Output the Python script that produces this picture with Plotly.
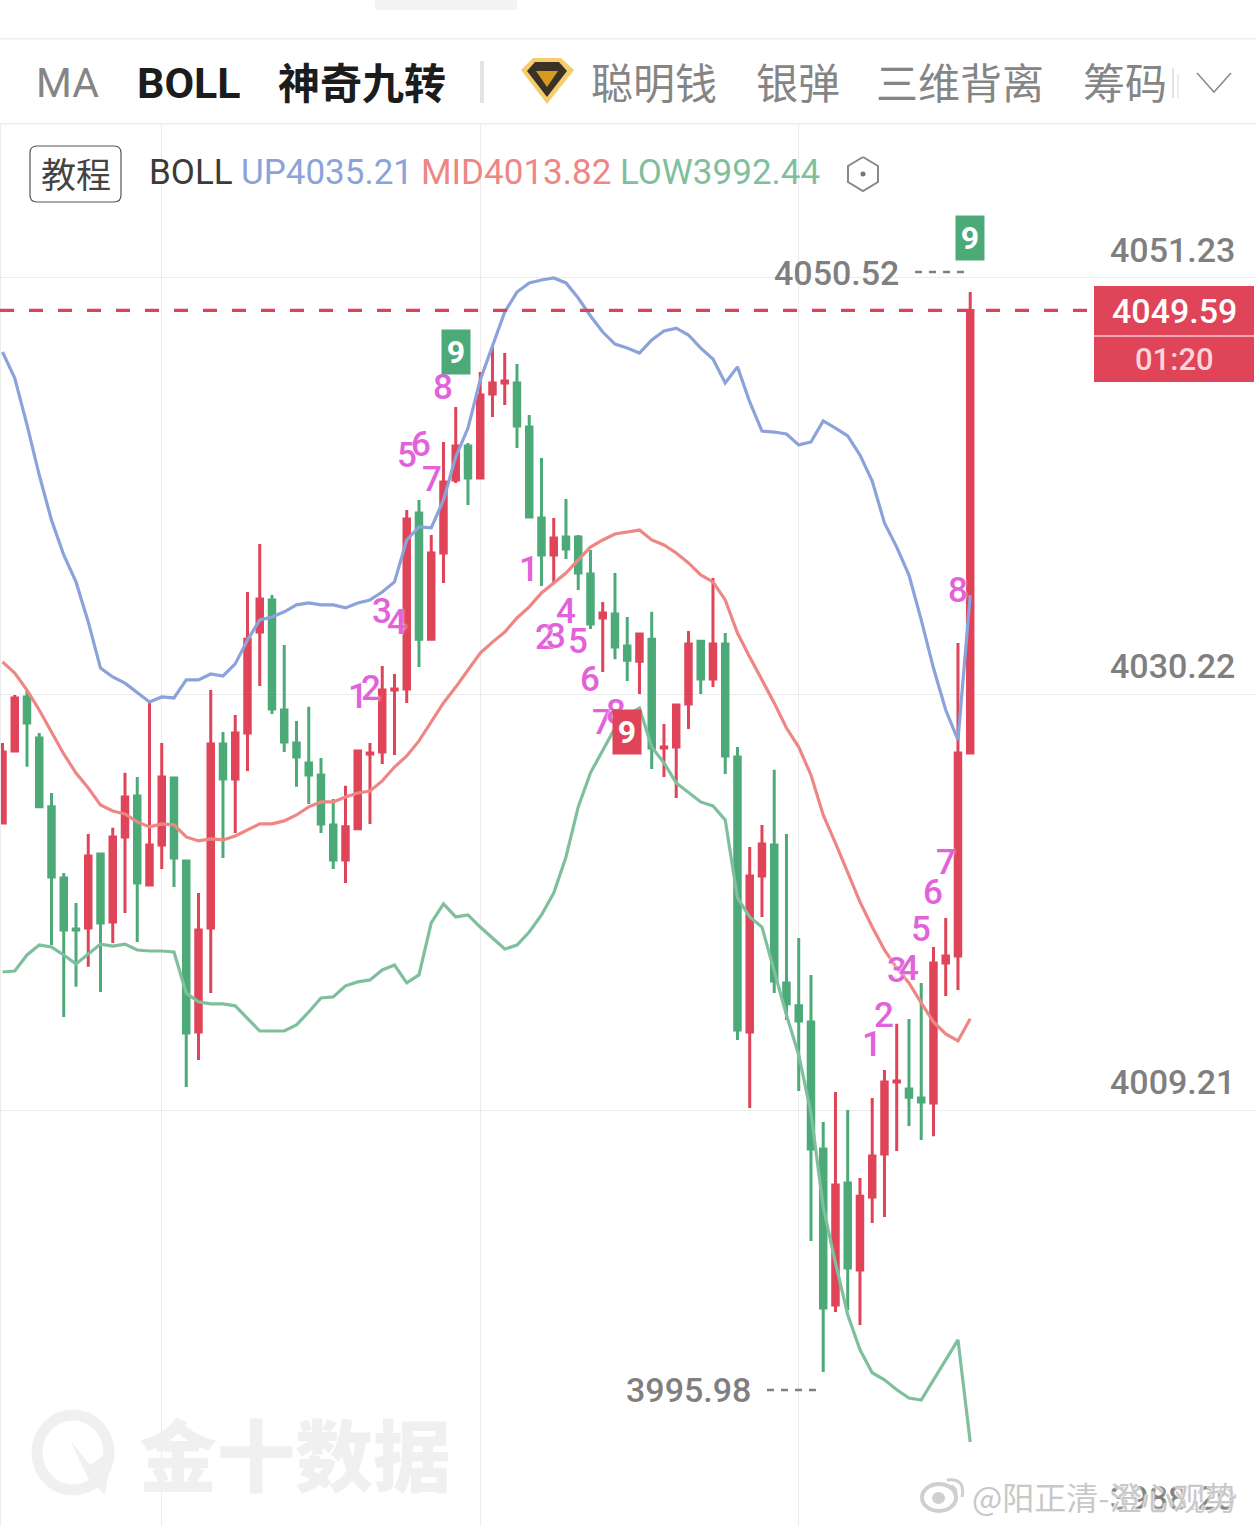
"""
plot.py

Gold candles with BOLL bands and the nine-turn counts.
"""

import plotly.graph_objects as go

W = 1256
H = 1526

# candles, oldest first (index is the bar number)
opens = [4023.71, 4027.34, 4030.07, 4028.00, 4024.52, 4020.93, 4018.35, 4018.40, 4022.14, 4018.71,
         4023.00, 4025.07, 4020.57, 4022.59, 4025.98, 4021.79, 4013.15, 4018.40, 4027.70, 4025.93,
         4028.25, 4033.35, 4034.97, 4029.41, 4027.75, 4026.74, 4026.13, 4023.61, 4021.84, 4023.41,
         4027.19, 4027.29, 4030.42, 4030.47, 4039.36, 4032.99, 4037.34, 4041.03, 4042.75, 4041.13,
         4045.37, 4045.93, 4045.93, 4043.70, 4039.11, 4037.24, 4038.15, 4038.15, 4036.28, 4034.06,
         4034.26, 4032.64, 4031.88, 4032.99, 4027.49, 4027.54, 4029.71, 4032.89, 4030.98, 4032.74,
         4027.04, 4013.15, 4021.03, 4022.59, 4015.63, 4014.47, 4013.66, 4007.24, 3999.36, 4005.52,
         4001.13, 4004.81, 4006.99, 4010.62, 4010.27, 4009.81, 4009.56, 4016.63, 4016.99, 4027.24]
highs = [4027.75, 4030.17, 4030.42, 4028.25, 4025.22, 4021.18, 4019.67, 4023.15, 4022.19, 4023.46,
         4026.24, 4026.03, 4029.92, 4027.75, 4026.03, 4021.79, 4020.17, 4030.42, 4028.30, 4029.16,
         4035.37, 4037.80, 4035.22, 4032.69, 4028.86, 4029.57, 4026.99, 4024.92, 4025.58, 4027.39,
         4027.75, 4031.63, 4031.23, 4039.51, 4040.02, 4038.25, 4042.95, 4044.72, 4042.90, 4046.48,
         4047.75, 4047.44, 4046.89, 4044.31, 4042.14, 4039.11, 4040.07, 4038.25, 4037.49, 4034.87,
         4036.33, 4034.11, 4033.30, 4034.37, 4028.71, 4029.66, 4033.40, 4032.94, 4036.08, 4033.30,
         4027.54, 4022.49, 4023.61, 4026.39, 4023.15, 4017.90, 4016.03, 4008.60, 4010.12, 4009.21,
         4005.77, 4009.81, 4011.23, 4013.56, 4013.81, 4015.63, 4017.44, 4018.91, 4032.79, 4050.52]
lows = [4023.71, 4027.34, 4026.54, 4024.52, 4017.54, 4013.91, 4015.43, 4016.44, 4015.17, 4017.64,
        4019.16, 4017.69, 4020.57, 4021.38, 4020.47, 4010.37, 4011.74, 4015.12, 4021.94, 4023.20,
        4026.33, 4030.62, 4029.21, 4027.29, 4025.53, 4024.67, 4023.20, 4021.38, 4020.67, 4023.41,
        4023.66, 4026.69, 4027.14, 4029.77, 4031.58, 4032.99, 4035.83, 4040.88, 4039.77, 4041.13,
        4044.21, 4044.82, 4042.65, 4039.16, 4035.67, 4035.83, 4037.04, 4035.47, 4033.50, 4031.33,
        4031.98, 4030.88, 4030.22, 4026.43, 4026.03, 4024.97, 4028.45, 4030.22, 4030.57, 4026.18,
        4012.75, 4009.31, 4018.96, 4015.12, 4013.76, 4010.17, 4002.59, 3995.98, 3999.01, 3999.11,
        3998.35, 4003.50, 4003.81, 4007.14, 4008.40, 4007.69, 4007.89, 4014.97, 4015.27, 4027.24]
closes = [4027.29, 4030.02, 4028.76, 4024.52, 4020.98, 4018.30, 4018.30, 4022.04, 4018.66, 4023.00,
          4025.02, 4020.67, 4022.59, 4026.03, 4021.94, 4013.10, 4018.30, 4027.70, 4025.93, 4028.25,
          4032.99, 4035.02, 4029.46, 4027.80, 4027.04, 4026.13, 4023.66, 4021.84, 4023.51, 4027.34,
          4027.24, 4030.42, 4030.47, 4039.06, 4032.99, 4037.34, 4040.93, 4042.75, 4041.13, 4045.32,
          4045.93, 4046.03, 4043.76, 4039.16, 4037.24, 4038.10, 4037.54, 4036.33, 4033.76, 4034.31,
          4032.59, 4031.93, 4033.25, 4027.49, 4027.54, 4029.66, 4032.74, 4030.98, 4032.74, 4027.09,
          4013.25, 4021.03, 4022.64, 4015.73, 4014.57, 4013.71, 4007.24, 3999.21, 4005.42, 4001.23,
          4004.86, 4006.89, 4010.62, 4010.67, 4009.86, 4009.61, 4016.63, 4016.99, 4027.24, 4049.59]

boll_up = [4047.49, 4046.18, 4043.81, 4041.28, 4039.00, 4037.24, 4035.88, 4033.86, 4031.53, 4031.08,
           4030.77, 4030.27, 4029.82, 4030.07, 4030.02, 4030.93, 4030.93, 4031.23, 4031.13, 4031.74,
           4032.94, 4033.96, 4034.11, 4034.37, 4034.72, 4034.82, 4034.72, 4034.72, 4034.57, 4034.82,
           4034.97, 4035.37, 4035.88, 4038.00, 4038.66, 4038.61, 4040.02, 4042.19, 4043.65, 4046.08,
           4047.75, 4049.51, 4050.52, 4050.98, 4051.13, 4051.23, 4050.98, 4050.22, 4049.31, 4048.50,
           4047.89, 4047.69, 4047.44, 4048.10, 4048.55, 4048.70, 4048.35, 4047.69, 4047.14, 4045.93,
           4046.74, 4044.97, 4043.50, 4043.45, 4043.35, 4042.80, 4042.95, 4044.01, 4043.65, 4043.25,
           4042.29, 4040.98, 4038.86, 4037.64, 4036.23, 4033.96, 4031.53, 4029.41, 4027.90, 4035.21]
boll_mid = [4031.84, 4031.28, 4030.42, 4029.41, 4028.30, 4027.19, 4026.23, 4025.47, 4024.62, 4024.31,
            4024.16, 4023.76, 4023.51, 4023.66, 4023.61, 4023.00, 4022.80, 4022.90, 4022.85, 4023.05,
            4023.36, 4023.66, 4023.66, 4023.81, 4024.11, 4024.52, 4024.77, 4024.77, 4025.02, 4025.22,
            4025.32, 4025.83, 4026.53, 4027.09, 4027.85, 4028.81, 4029.77, 4030.57, 4031.43, 4032.29,
            4032.84, 4033.35, 4034.06, 4034.62, 4035.32, 4035.83, 4036.33, 4036.99, 4037.64, 4038.00,
            4038.30, 4038.40, 4038.50, 4038.00, 4037.75, 4037.34, 4036.84, 4036.23, 4035.88, 4034.97,
            4033.30, 4032.09, 4030.93, 4029.77, 4028.50, 4027.54, 4026.13, 4024.11, 4022.69, 4021.18,
            4019.72, 4018.45, 4017.29, 4016.38, 4015.63, 4014.62, 4013.66, 4013.05, 4012.70, 4013.82]
boll_low = [4016.18, 4016.23, 4017.04, 4017.54, 4017.44, 4017.04, 4016.58, 4017.09, 4017.59, 4017.49,
            4017.59, 4017.29, 4017.24, 4017.24, 4017.19, 4015.12, 4014.67, 4014.57, 4014.57, 4014.47,
            4013.86, 4013.20, 4013.20, 4013.20, 4013.51, 4014.16, 4014.87, 4014.92, 4015.48, 4015.68,
            4015.78, 4016.28, 4016.53, 4015.63, 4016.03, 4018.66, 4019.62, 4018.96, 4019.06, 4018.45,
            4017.90, 4017.34, 4017.54, 4018.20, 4019.06, 4020.17, 4021.99, 4024.52, 4026.24, 4027.39,
            4028.50, 4029.16, 4029.51, 4027.54, 4026.74, 4025.73, 4025.27, 4024.77, 4024.57, 4023.86,
            4019.92, 4018.96, 4018.45, 4016.18, 4014.01, 4011.99, 4009.06, 4004.31, 4001.49, 3998.87,
            3997.10, 3995.94, 3995.58, 3995.08, 3994.66, 3994.56, 3995.58, 3996.59, 3997.60, 3992.44]

price_levels = [4051.23, 4030.22, 4009.21, 3988.20]
price_labels = ['4051.23', '4030.22', '4009.21', '3988.20']
grid_bars = [13, 39, 65]
last_price = 4049.59
countdown = '01:20'

# nine-turn counts: label, bar, price where it sits
count_text = ['1', '2', '3', '4', '5', '6', '7', '8',
              '1', '2', '3', '4', '5', '6', '7', '8',
              '1', '2', '3', '4', '5', '6', '7', '8']
count_bar = [29.0, 30.1, 31.0, 32.2, 33.0, 34.2, 35.1, 36.0,
             43.0, 44.3, 45.2, 46.0, 47.0, 48.0, 48.9, 50.1,
             71.0, 72.0, 73.0, 74.0, 75.0, 76.0, 77.0, 78.0]
count_price = [4030.07, 4030.52, 4034.37, 4033.81, 4042.29, 4042.80, 4041.03, 4045.72,
               4036.53, 4033.05, 4033.10, 4034.37, 4032.89, 4030.93, 4028.76, 4029.31,
               4012.54, 4013.96, 4016.28, 4016.38, 4018.35, 4020.22, 4021.73, 4035.47]
nine_bar = [37, 51, 79]
nine_price = [4047.49, 4028.29, 4053.25]

RED = '#df4459'
GREEN = '#4caa78'
BLUE = '#8ba2da'
PINK = '#ee8784'
MINT = '#80bf9e'
GREY = '#7f7f7f'
GRID = '#ececec'
MAGENTA = '#e262da'
CJK = 'Noto Sans CJK SC'

# y range and x range fitted so the bars fill the whole page
y_range = [3988.20, 4065.27]
x_range = [-0.204, 102.33]


def px(x):
    return x / W


def py(y):
    return 1 - y / H


def label(x, y, text, size, color, anchor='left', weight=400, family='Roboto', shadow=None):
    fig.add_annotation(xref='paper', yref='paper', x=px(x), y=py(y), text=text,
                       xanchor=anchor, yanchor='middle', showarrow=False,
                       font=dict(family=family, size=size, color=color, weight=weight,
                                 shadow=shadow))


def box(x0, y0, x1, y1, fill=None, line=None, width=1, kind='rect'):
    fig.add_shape(type=kind, xref='paper', yref='paper',
                  x0=px(x0), x1=px(x1), y0=py(y0), y1=py(y1),
                  fillcolor=fill, line=dict(color=line, width=width if line else 0))


def poly(path, fill=None, line=None, width=1):
    # path given in page pixels
    pts = [f'{px(a):.5f},{py(b):.5f}' for a, b in path]
    fig.add_shape(type='path', xref='paper', yref='paper',
                  path='M' + ' L'.join(pts) + (' Z' if fill else ''),
                  fillcolor=fill, line=dict(color=line, width=width if line else 0))


def curve(a, ctrl, b, color, width):
    fig.add_shape(type='path', xref='paper', yref='paper',
                  path=f'M{px(a[0]):.5f},{py(a[1]):.5f} Q{px(ctrl[0]):.5f},{py(ctrl[1]):.5f} '
                       f'{px(b[0]):.5f},{py(b[1]):.5f}',
                  line=dict(color=color, width=width))


fig = go.Figure()

bars = list(range(len(closes)))

fig.add_trace(go.Candlestick(
    x=bars, open=opens, high=highs, low=lows, close=closes,
    increasing=dict(line=dict(color=RED, width=3), fillcolor=RED),
    decreasing=dict(line=dict(color=GREEN, width=3), fillcolor=GREEN),
    whiskerwidth=0,
    showlegend=False,
))

for values, color in [(boll_up, BLUE), (boll_mid, PINK), (boll_low, MINT)]:
    fig.add_trace(go.Scatter(x=bars, y=values, mode='lines',
                             line=dict(color=color, width=3.2),
                             showlegend=False))

fig.update_layout(
    width=W, height=H,
    autosize=False,
    margin=dict(l=0, r=0, t=0, b=0),
    paper_bgcolor='white',
    plot_bgcolor='white',
    boxgap=0.36,
    xaxis=dict(range=x_range, domain=[0, 1], tickmode='array', tickvals=grid_bars,
               showticklabels=False, showgrid=True, gridcolor=GRID, gridwidth=1,
               zeroline=False, rangeslider=dict(visible=False), ticks=''),
    yaxis=dict(range=y_range, domain=[0, 1], tickmode='array', tickvals=price_levels,
               showticklabels=False, showgrid=True, gridcolor=GRID, gridwidth=1,
               zeroline=False, ticks=''),
)

# white header over the grid verticals
box(0, 0, W, 124, fill='white')
box(375, 0, 517, 10, fill='#f4f4f4')
box(0, 38, W, 39.5, fill='#eeeeee')
box(0, 123, W, 124.5, fill='#ececec')
box(0, 124, 1, H, fill=GRID)

label(34, 83, 'MA', 41, '#858585')
label(135, 83, 'BOLL', 43, '#1c1c1c', weight=700)
label(276, 81, '神奇九转', 42, '#1c1c1c', weight=700, family=CJK)
box(480, 61, 484, 103, fill='#e4e4e4')
poly([(521, 70), (533, 58), (561, 58), (574, 70), (547, 104)], fill='#f7cc6c')
poly([(527, 71), (535, 62), (559, 62), (567, 71), (547, 97)], fill='#3a3226')
poly([(536, 71), (558, 71), (547, 87)], fill='#d99a1e')
label(589, 81, '聪明钱', 42, '#858585', family=CJK)
label(754, 81, '银弹', 42, '#858585', family=CJK)
label(874, 81, '三维背离', 42, '#858585', family=CJK)
label(1081, 81, '筹码', 42, '#858585', family=CJK)
box(1172, 68, 1174, 98, fill='#e2e2e2')
box(1177, 74, 1179, 98, fill='#eeeeee')
poly([(1197, 73), (1214, 92), (1231, 73)], line='#8a8a8a', width=1.5)

# indicator line under the tabs
fig.add_shape(type='path', xref='paper', yref='paper',
              path=f'M{px(37)},{py(146)} L{px(114)},{py(146)} Q{px(121)},{py(146)} {px(121)},{py(153)} '
                   f'L{px(121)},{py(195)} Q{px(121)},{py(202)} {px(114)},{py(202)} '
                   f'L{px(37)},{py(202)} Q{px(30)},{py(202)} {px(30)},{py(195)} '
                   f'L{px(30)},{py(153)} Q{px(30)},{py(146)} {px(37)},{py(146)} Z',
              fillcolor='white', line=dict(color='#555555', width=1.2))
label(75.5, 172, '教程', 35, '#444444', anchor='center', family=CJK)
label(147, 173, 'BOLL', 35, '#3a3a3a')
label(239, 173, 'UP4035.21', 35, BLUE)
label(419, 173, 'MID4013.82', 35, PINK)
label(618, 173, 'LOW3992.44', 35, MINT)
poly([(863, 157), (878, 166), (878, 182), (863, 191), (848, 182), (848, 166), (863, 157)],
     line='#888888', width=2)
box(860.5, 171.5, 865.5, 176.5, fill='#777777', kind='circle')

# right price scale
for level, text in zip(price_levels, price_labels):
    fig.add_annotation(xref='paper', yref='y', x=px(1237), y=level, text=text, xanchor='right',
                       yanchor='bottom', yshift=6, showarrow=False,
                       font=dict(family='Roboto', size=34, color=GREY, weight=500))

# last price line and tag
fig.add_shape(type='line', xref='paper', yref='y', x0=0, x1=px(1094), y0=last_price, y1=last_price,
              line=dict(color='#d9465c', width=3.2, dash='14px,15px'))
box(1094, 286, 1254, 382, fill=RED)
box(1094, 335, 1254, 337, fill='#f3a9b3')
label(1174, 311, f'{last_price:.2f}', 34, 'white', anchor='center', weight=500)
label(1174, 359, countdown, 31, '#fbd3d8', anchor='center', weight=500)

# high and low call-outs
label(901, 273, f'{highs[-1]:.2f}', 34, GREY, anchor='right', weight=500)
fig.add_shape(type='line', xref='paper', yref='paper', x0=px(915), x1=px(965), y0=py(272), y1=py(272),
              line=dict(color=GREY, width=2.5, dash='7px,7px'))
label(753, 1390, f'{min(lows):.2f}', 34, GREY, anchor='right', weight=500)
fig.add_shape(type='line', xref='paper', yref='paper', x0=px(767), x1=px(817), y0=py(1390), y1=py(1390),
              line=dict(color=GREY, width=2.5, dash='7px,7px'))

# nine-turn counts
for text, bar, price in zip(count_text, count_bar, count_price):
    fig.add_annotation(x=bar, y=price, text=text, showarrow=False,
                       font=dict(family='Roboto', size=35, color=MAGENTA, weight=500,
                                 shadow='0 0 3px white'))
for bar, price, color in zip(nine_bar, nine_price, [GREEN, RED, GREEN]):
    fig.add_annotation(x=bar, y=price, text='9', showarrow=False, width=28, height=44,
                       bgcolor=color, borderpad=0,
                       font=dict(family='Roboto', size=32, color='white', weight=700))

# watermark
fig.add_shape(type='circle', xref='paper', yref='paper', x0=px(37), x1=px(109), y0=py(1415), y1=py(1490),
              line=dict(color='#f0f0f0', width=11))
poly([(70, 1440), (90, 1465), (112, 1450), (105, 1495), (88, 1478)], fill='#f0f0f0')
label(137, 1452, '金十数据', 78, '#f0f0f0', weight=900, family=CJK)

# weibo mark, sits on top of the lowest price label
box(922, 1484, 956, 1511, fill='white', line='#cfcfcf', width=4, kind='circle')
box(932, 1492, 945, 1504, fill='#cfcfcf', kind='circle')
curve((947, 1480), (966, 1478), (962, 1497), '#cfcfcf', 3)
curve((948, 1486), (957, 1485), (956, 1495), '#cfcfcf', 2.5)
label(970, 1496, '@阳正清-澄心观势', 32, '#c8c8c8', family=CJK,
      shadow='0 0 3px white, 0 0 3px white, 0 0 2px white')

fig.write_html('out.html', config={'displayModeBar': False},
               post_script="document.body.style.margin='0';document.body.style.overflow='hidden';")
